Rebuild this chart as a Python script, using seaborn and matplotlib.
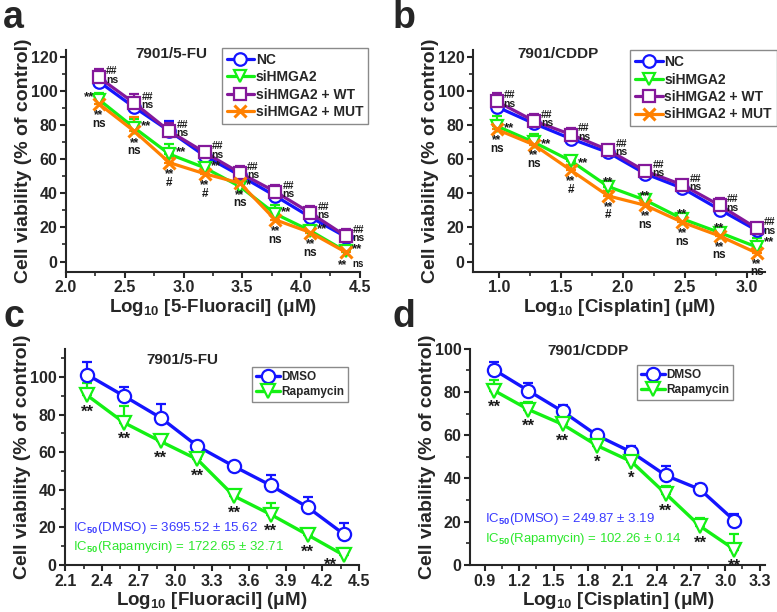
import numpy as np
import matplotlib
matplotlib.use("Agg")
import matplotlib.pyplot as plt
from matplotlib.ticker import MultipleLocator, FormatStrFormatter
import seaborn as sns

# ==== Data ====
x_fu = [2.28, 2.58, 2.88, 3.18, 3.48, 3.78, 4.08, 4.38]
x_cddp = [0.98, 1.28, 1.58, 1.88, 2.18, 2.48, 2.78, 3.08]

# panel a (7901/5-FU, siHMGA2 rescue)
nc_a = [105.5, 90.5, 76.5, 62.0, 50.5, 38.5, 26.0, 14.5]
si_a = [95.0, 78.5, 63.0, 55.0, 44.0, 28.0, 18.0, 6.0]
wt_a = [108.0, 93.0, 76.5, 64.0, 52.0, 41.0, 28.5, 15.0]
mut_a = [92.5, 76.5, 58.0, 51.5, 46.0, 24.5, 17.0, 5.5]
nc_a_err = [4, 5, 6, 3, 4, 3, 4, 4]
si_a_err = [4, 5, 6, 4, 3, 5, 3, 3]
wt_a_err = [5, 5, 5, 3, 4, 4, 4, 4]
mut_a_err = [3, 8, 3, 4, 4, 3, 3, 3]

# panel b (7901/CDDP, siHMGA2 rescue)
nc_b = [90.8, 81.0, 72.0, 64.0, 51.5, 43.0, 30.5, 18.3]
si_b = [79.5, 70.0, 59.0, 44.0, 36.0, 25.0, 17.0, 8.5]
wt_b = [94.0, 82.5, 74.5, 65.5, 53.0, 45.0, 33.0, 19.5]
mut_b = [77.5, 68.5, 53.5, 38.5, 33.0, 23.0, 15.0, 5.0]
nc_b_err = [3, 2, 2, 2, 2, 2, 2, 2]
si_b_err = [6, 5, 3, 3, 2, 3, 2, 5]
wt_b_err = [5, 4, 4, 3, 2, 3, 4, 2]
mut_b_err = [5, 5, 3, 3, 2, 2, 2, 2]

# panel c (7901/5-FU, rapamycin)
dmso_c = [101.2, 89.9, 78.3, 63.2, 52.4, 42.3, 30.7, 16.2]
rapa_c = [90.2, 75.7, 65.7, 56.1, 36.6, 26.8, 16.0, 5.0]
dmso_c_err = [7.0, 5.0, 7.5, 3.0, 2.0, 5.7, 5.3, 6.2]
rapa_c_err = [6.8, 8.7, 2.3, 5.7, 3.0, 6.2, 3.2, 4.0]

# panel d (7901/CDDP, rapamycin)
dmso_d = [90.3, 80.6, 71.0, 59.9, 52.2, 41.4, 34.9, 20.5]
rapa_d = [80.7, 71.9, 65.0, 55.2, 47.8, 32.9, 17.9, 7.1]
dmso_d_err = [3.8, 3.5, 2.8, 1.5, 3.0, 4.3, 2.6, 3.1]
rapa_d_err = [5.0, 3.4, 1.8, 3.8, 2.0, 3.5, 3.9, 7.3]

# significance labels
wt_sig = ["##\nns"] * 8
si_a_sig = ["**", "**", "**", "**", "*", "**", "**", "**"]
mut_a_sig = ["**\nns", "**\nns", "**\n#", "**\n#", "**\nns", "**\nns", "**\nns", "**"]
si_b_sig = ["**"] * 8
mut_b_sig = ["**\nns", "**\nns", "**\n#", "**\n#", "**\nns", "**\nns", "**\nns", "**\nns"]
rapa_c_sig = ["**"] * 8
rapa_d_sig = ["**", "**", "**", "*", "*", "**", "**", "**"]

labels4 = ["NC", "siHMGA2", "siHMGA2 + WT", "siHMGA2 + MUT"]
labels2 = ["DMSO", "Rapamycin"]

# ==== Style ====
sns.set_style("ticks")
plt.rcParams["font.family"] = ["Liberation Sans", "DejaVu Sans"]
plt.rcParams["font.weight"] = "bold"
plt.rcParams["mathtext.fontset"] = "custom"
plt.rcParams["mathtext.rm"] = "Liberation Sans"
plt.rcParams["mathtext.bf"] = "Liberation Sans:bold"

BLUE = "#1414ff"
GREEN = "#14f014"
PURPLE = "#84189a"
ORANGE = "#ff8000"
colors4 = [BLUE, GREEN, PURPLE, ORANGE]
markers4 = ["o", "v", "s", "x"]

fig = plt.figure(figsize=(7.77, 6.12), dpi=100)
ax_a = fig.add_axes([0.085, 0.556, 0.378, 0.362])
ax_b = fig.add_axes([0.609, 0.556, 0.376, 0.362])
ax_c = fig.add_axes([0.084, 0.077, 0.378, 0.353])
ax_d = fig.add_axes([0.605, 0.077, 0.380, 0.353])


def draw_series(ax, x, y, err, color, marker, label, ms=9, lw=2.3):
    ax.errorbar(x, y, yerr=[np.zeros(len(err)), err], fmt="none", ecolor=color,
                elinewidth=1.6, capsize=3.5, capthick=1.6, zorder=2)
    sns.lineplot(x=x, y=y, ax=ax, color=color, marker=marker, markersize=ms,
                 markerfacecolor="white" if marker != "x" else color,
                 markeredgecolor=color, markeredgewidth=1.6 if marker != "x" else 2.2,
                 linewidth=lw, label=label, zorder=3)


def style_axis(ax, xlim, ylim, xmaj, xmin, ymaj, ymin, xlabel):
    ax.set_xlim(*xlim)
    ax.set_ylim(*ylim)
    ax.xaxis.set_major_locator(MultipleLocator(xmaj))
    ax.xaxis.set_minor_locator(MultipleLocator(xmin))
    ax.yaxis.set_major_locator(MultipleLocator(ymaj))
    ax.yaxis.set_minor_locator(MultipleLocator(ymin))
    ax.xaxis.set_major_formatter(FormatStrFormatter("%.1f"))
    for s in ["top", "right"]:
        ax.spines[s].set_visible(False)
    for s in ["left", "bottom"]:
        ax.spines[s].set_linewidth(1.5)
    ax.tick_params(which="major", direction="out", length=4.3, width=1.5,
                   labelsize=11.5, pad=2)
    ax.tick_params(which="minor", direction="out", length=2.6, width=1.2)
    for t in ax.get_xticklabels() + ax.get_yticklabels():
        t.set_fontweight("bold")
    ax.set_ylabel("Cell viability (% of control)", fontsize=14, fontweight="bold", labelpad=-1)
    ax.set_xlabel(xlabel, fontsize=13.5, fontweight="bold", labelpad=1)


def note(ax, x, y, s, dx, dy, size, ha="center", va="baseline", ls=1.0):
    ax.annotate(s, (x, y), xytext=(dx, dy), textcoords="offset points",
                ha=ha, va=va, fontsize=size, fontweight="bold", linespacing=ls,
                color="#1a1a1a", zorder=5, multialignment="center")


# ==== Panel a ====
for yv, ev, c, m, lab in zip([nc_a, si_a, wt_a, mut_a],
                             [nc_a_err, si_a_err, wt_a_err, mut_a_err],
                             colors4, markers4, labels4):
    draw_series(ax_a, x_fu, yv, ev, c, m, lab)
style_axis(ax_a, (2.0, 4.5), (-6, 124), 0.5, 0.25, 20, 10,
           r"Log$_{\mathbf{10}}$ [5-Fluoracil] (μM)")
for i, xv in enumerate(x_fu):
    note(ax_a, xv, wt_a[i], wt_sig[i], 5.0, 8.0, 7.5, ha="left", va="top", ls=0.8)
    if i == 0:
        note(ax_a, xv, si_a[i], si_a_sig[i], -3.5, -0.5, 9.5, ha="right")
    else:
        note(ax_a, xv, si_a[i], si_a_sig[i], 4.5, -1.0, 9.5, ha="left")
    if i == 7:
        note(ax_a, xv, mut_a[i], mut_a_sig[i], -2, -5.0, 8.5, va="top")
        note(ax_a, xv, mut_a[i], "ns", 9, -10.5, 7)
    else:
        note(ax_a, xv, mut_a[i], mut_a_sig[i], 0, -4.0, 8.5, va="top", ls=0.62)
ax_a.text(0.36, 0.985, "7901/5-FU", transform=ax_a.transAxes, ha="center",
          va="center", fontsize=11, fontweight="bold")

# ==== Panel b ====
for yv, ev, c, m, lab in zip([nc_b, si_b, wt_b, mut_b],
                             [nc_b_err, si_b_err, wt_b_err, mut_b_err],
                             colors4, markers4, labels4):
    draw_series(ax_b, x_cddp, yv, ev, c, m, lab)
style_axis(ax_b, (0.79, 3.15), (-6, 124), 0.5, 0.25, 20, 10,
           r"Log$_{\mathbf{10}}$ [Cisplatin] (μM)")
si_b_place = ["right", "right", "right", "above", "above", "above", "above", "right"]
for i, xv in enumerate(x_cddp):
    note(ax_b, xv, wt_b[i], wt_sig[i], 5.0, 8.0, 7.5, ha="left", va="top", ls=0.8)
    if si_b_place[i] == "right":
        note(ax_b, xv, si_b[i], si_b_sig[i], 5, -3.5 if i < 7 else 1.0, 9.5, ha="left")
    else:
        note(ax_b, xv, si_b[i], si_b_sig[i], 0, 1.0, 9.5)
    note(ax_b, xv, mut_b[i], mut_b_sig[i], 0, -3.5, 8.5, va="top", ls=0.62)
ax_b.text(0.29, 0.985, "7901/CDDP", transform=ax_b.transAxes, ha="center",
          va="center", fontsize=11, fontweight="bold")

# ==== Panel c ====
draw_series(ax_c, x_fu, dmso_c, dmso_c_err, BLUE, "o", labels2[0], ms=9.5, lw=2.4)
draw_series(ax_c, x_fu, rapa_c, rapa_c_err, GREEN, "v", labels2[1], ms=9.5, lw=2.4)
style_axis(ax_c, (2.1, 4.5), (0, 115), 0.3, 0.15, 20, 10,
           r"Log$_{\mathbf{10}}$ [Fluoracil] (μM)")
for i, xv in enumerate(x_fu):
    if i == 7:
        note(ax_c, xv, rapa_c[i], rapa_c_sig[i], -10, -10.0, 12)
    else:
        note(ax_c, xv, rapa_c[i], rapa_c_sig[i], 0, -15.5, 12)
ax_c.text(0.40, 0.95, "7901/5-FU", transform=ax_c.transAxes, ha="center",
          va="center", fontsize=11, fontweight="bold")
ax_c.text(0.027, 0.171, r"IC$_{50}$(DMSO) = 3695.52 ± 15.62", transform=ax_c.transAxes,
          ha="left", va="center", fontsize=9.5, fontweight="normal", color="#3a3aff")
ax_c.text(0.027, 0.083, r"IC$_{50}$(Rapamycin) = 1722.65 ± 32.71", transform=ax_c.transAxes,
          ha="left", va="center", fontsize=9.5, fontweight="normal", color="#2ee82e")

# ==== Panel d ====
draw_series(ax_d, x_cddp, dmso_d, dmso_d_err, BLUE, "o", labels2[0], ms=9.5, lw=2.4)
draw_series(ax_d, x_cddp, rapa_d, rapa_d_err, GREEN, "v", labels2[1], ms=9.5, lw=2.4)
style_axis(ax_d, (0.77, 3.35), (0, 100), 0.3, 0.15, 20, 10,
           r"Log$_{\mathbf{10}}$ [Cisplatin] (μM)")
for i, xv in enumerate(x_cddp):
    note(ax_d, xv, rapa_d[i], rapa_d_sig[i], 0, -15.5, 12)
ax_d.text(0.40, 0.99, "7901/CDDP", transform=ax_d.transAxes, ha="center",
          va="center", fontsize=11, fontweight="bold")
ax_d.text(0.05, 0.213, r"IC$_{50}$(DMSO) = 249.87 ± 3.19", transform=ax_d.transAxes,
          ha="left", va="center", fontsize=9.5, fontweight="normal", color="#3a3aff")
ax_d.text(0.05, 0.12, r"IC$_{50}$(Rapamycin) = 102.26 ± 0.14", transform=ax_d.transAxes,
          ha="left", va="center", fontsize=9.5, fontweight="normal", color="#2ee82e")

# ==== Legends ====
for ax, anchor, fs in [(ax_a, (0.53, 1.01), 10), (ax_b, (0.538, 1.0), 10),
                       (ax_c, (0.636, 0.917), 8.5), (ax_d, (0.566, 0.926), 8.5)]:
    leg = ax.legend(loc="upper left", bbox_to_anchor=anchor, borderaxespad=0,
                    fontsize=fs, handlelength=2.0, handletextpad=0.1,
                    labelspacing=0.25, borderpad=0.35, fancybox=False,
                    framealpha=1, edgecolor="#8a8a8a")
    leg.get_frame().set_linewidth(1.0)
    for t in leg.get_texts():
        t.set_fontweight("bold")

# ==== Panel letters ====
for lbl, x, y in [("a", 0.004, 0.954), ("b", 0.505, 0.954),
                  ("c", 0.004, 0.466), ("d", 0.505, 0.466)]:
    fig.text(x, y, lbl, fontsize=27, fontweight="bold", va="baseline", ha="left")

plt.savefig("out.png", dpi=100)
